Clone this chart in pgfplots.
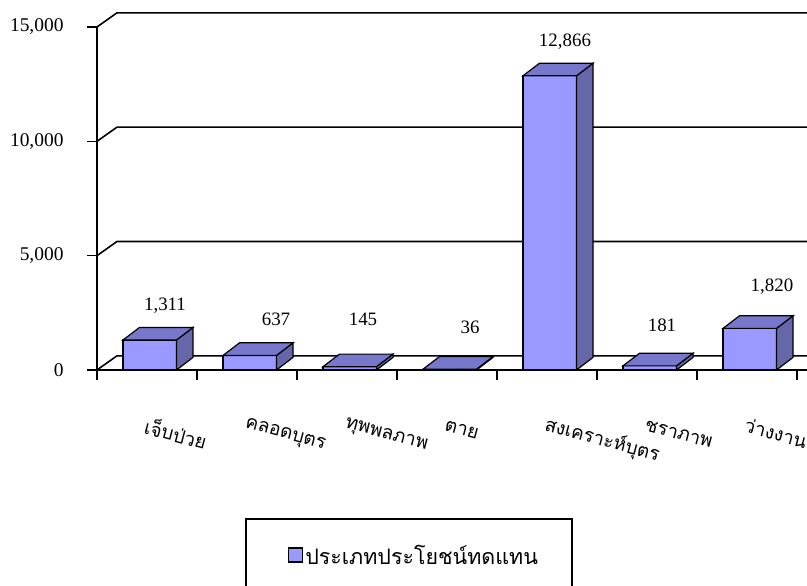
\documentclass[border=0pt]{standalone}
\usepackage{pgfplots}
\pgfplotsset{compat=1.18}
\usepackage{pgfplotstable}
\usepackage{fontspec}
\setmainfont{Liberation Serif}
\newfontfamily\thaifont[Script=Thai]{Loma}
\definecolor{barfront}{RGB}{153,153,255}
\definecolor{bartop}{RGB}{119,119,204}
\definecolor{barside}{RGB}{102,102,170}
\pgfplotstableread{
x v
0 1311
1 637
2 145
3 36
4 12866
5 181
6 1820
}\bardata
\pgfplotstableread{
x y label
0.68 2799 1,311
1.79 2230 637
2.66 2230 145
3.73 1880 36
4.68 14344 12,866
5.65 1968 181
6.75 3630 1,820
}\labeldata
\begin{document}
\begin{tikzpicture}
\begin{axis}[
  scale only axis, width=710bp, height=343bp,
  xmin=0, xmax=7.1, ymin=0, ymax=15000,
  clip=false,
  axis x line*=bottom, axis y line*=left,
  axis line style={line width=1.6pt, black},
  xtick={0,...,7}, xticklabels=\empty,
  ytick={0,5000,10000,15000},
  scaled y ticks=false,
  tick align=outside, major tick length=10bp,
  tick style={black, line width=1.6pt},
  yticklabel style={font=\fontsize{19.5}{22}\selectfont, xshift=-20bp},
  /pgf/number format/1000 sep={,},
  /pgf/number format/assume math mode=true,
  extra x ticks={0.48,1.48,2.48,3.48,4.48,5.48,6.48},
  extra x tick labels={เจ็บป่วย,คลอดบุตร,ทุพพลภาพ,ตาย,สงเคราะห์บุตร,ชราภาพ,ว่างงาน},
  extra x tick style={major tick length=0pt,
    xticklabel style={rotate=-15, anchor=west, font=\thaifont\fontsize{19}{22}\selectfont, yshift=-53bp, xshift=11bp}},
  legend style={at={(axis cs:1.48,-6472)}, anchor=north west, draw=black, line width=1.6pt,
    inner xsep=32bp, inner ysep=24bp, font=\thaifont\fontsize{21.5}{25}\selectfont},
  legend image code/.code={\path (0bp,0bp); \draw[fill=barfront, draw=black, line width=1.8pt] (10bp,-7bp) rectangle (24bp,7bp);},
]
% back wall and floor lines
\addplot[black, line width=1.6pt, forget plot] coordinates {(0,0) (0.2,620) (7.1,620)};
\addplot[black, line width=1.6pt, forget plot] coordinates {(0,5000) (0.2,5620) (7.1,5620)};
\addplot[black, line width=1.6pt, forget plot] coordinates {(0,10000) (0.2,10620) (7.1,10620)};
\addplot[black, line width=1.6pt, forget plot] coordinates {(0,15000) (0.2,15620) (7.1,15620)};
% front faces
\addplot[ybar, bar width=0.535, bar shift=0pt, fill=barfront, draw=black, line width=1.2pt]
  table[x expr=\thisrow{x}+0.5275, y=v] {\bardata};
\addlegendentry{ประเภทประโยชน์ทดแทน}
% side and top faces
\pgfplotsforeachungrouped \i in {0,...,6}{
  \pgfplotstablegetelem{\i}{v}\of\bardata
  \let\barv=\pgfplotsretval
  \pgfmathsetmacro\xa{\i+0.26}
  \pgfmathsetmacro\xb{\i+0.795}
  \pgfmathsetmacro\xc{\i+0.96}
  \pgfmathsetmacro\xd{\i+0.425}
  \pgfmathsetmacro\vt{\barv+550}
  \edef\temp{\noexpand\addplot[fill=barside, draw=black, line width=1.2pt, forget plot] coordinates {(\xb,0) (\xc,550) (\xc,\vt) (\xb,\barv)} -- cycle;
    \noexpand\addplot[fill=bartop, draw=black, line width=1.2pt, forget plot] coordinates {(\xa,\barv) (\xb,\barv) (\xc,\vt) (\xd,\vt)} -- cycle;}
  \temp
}
% value labels
\addplot[draw=none, mark=none, forget plot, nodes near coords, point meta=explicit symbolic,
  every node near coord/.append style={anchor=center, font=\fontsize{19}{22}\selectfont, black}]
  table[x=x, y=y, meta=label] {\labeldata};
\coordinate (bl) at (axis cs:-0.97,-9446);
\coordinate (tr) at (axis cs:7.1,16180);
\end{axis}
\pgfresetboundingbox
\path[use as bounding box] (bl) rectangle (tr);
\end{tikzpicture}
\end{document}
